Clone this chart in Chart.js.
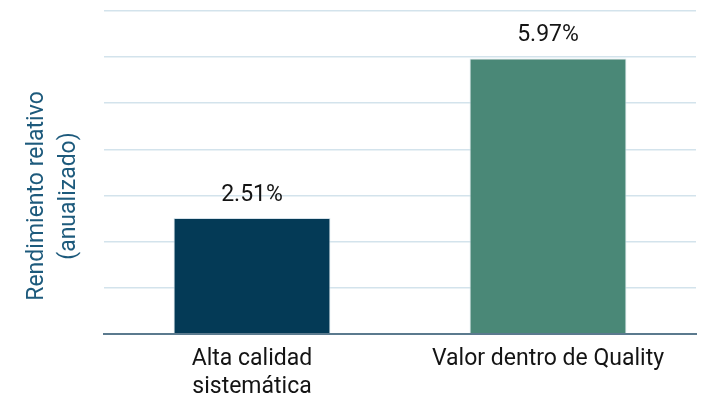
<!DOCTYPE html>
<html>
<head>
<meta charset="utf-8">
<script src="https://cdn.jsdelivr.net/npm/chart.js@4"></script>
<style>
  html, body { margin: 0; padding: 0; background: #ffffff; }
  #wrap { width: 708px; height: 404px; position: relative; }
</style>
</head>
<body>
<div id="wrap"><canvas id="c" width="708" height="404"></canvas></div>
<script>
const categories = [["Alta calidad", "sistemática"], ["Valor dentro de Quality"]];
const values = [2.51, 5.97];
const valueLabels = ["2.51%", "5.97%"];
const barColors = ["#043a56", "#4a8877"];
const yTitleLines = ["Rendimiento relativo", "(anualizado)"];

const FONT = "Roboto";
const FSIZE = 23;

const valueLabelPlugin = {
  id: "valueLabels",
  afterDatasetsDraw(chart) {
    const ctx = chart.ctx;
    const meta = chart.getDatasetMeta(0);
    ctx.save();
    ctx.font = FSIZE + "px " + FONT;
    ctx.fillStyle = "#141414";
    ctx.textAlign = "center";
    ctx.textBaseline = "alphabetic";
    meta.data.forEach((bar, i) => {
      ctx.fillText(valueLabels[i], bar.x, bar.y - 17);
    });
    ctx.restore();
  }
};

const yTitlePlugin = {
  id: "yTitle",
  afterDraw(chart) {
    const ctx = chart.ctx;
    ctx.save();
    ctx.font = FSIZE + "px " + FONT;
    ctx.fillStyle = "#1d5a7c";
    ctx.textAlign = "center";
    ctx.textBaseline = "alphabetic";
    ctx.translate(43, chart.height / 2 - 6);
    ctx.rotate(-Math.PI / 2);
    yTitleLines.forEach((t, i) => ctx.fillText(t, 0, i * 32));
    ctx.restore();
  }
};

new Chart(document.getElementById("c"), {
  type: "bar",
  data: {
    labels: categories,
    datasets: [{
      data: values,
      backgroundColor: barColors,
      borderColor: "#d6e2ea",
      borderWidth: 1,
      categoryPercentage: 1,
      barPercentage: 0.53
    }]
  },
  options: {
    responsive: false,
    animation: false,
    devicePixelRatio: 1,
    layout: { padding: { left: 104, right: 12, top: 11, bottom: -9 } },
    plugins: { legend: { display: false }, tooltip: { enabled: false } },
    scales: {
      x: {
        grid: { display: false, drawTicks: false },
        border: { display: true, color: "#5b7a8e", width: 2 },
        ticks: {
          color: "#141414",
          font: { family: FONT, size: FSIZE, lineHeight: 1.2 },
          padding: 12,
          maxRotation: 0,
          autoSkip: false
        }
      },
      y: {
        min: 0,
        max: 7,
        ticks: { display: false, stepSize: 1 },
        grid: {
          drawTicks: false,
          color: (c) => c.tick && c.tick.value === 0 ? "rgba(0,0,0,0)" : "#d3e3ec",
          lineWidth: 1.5
        },
        border: { display: false }
      }
    }
  },
  plugins: [valueLabelPlugin, yTitlePlugin]
});
</script>
</body>
</html>
